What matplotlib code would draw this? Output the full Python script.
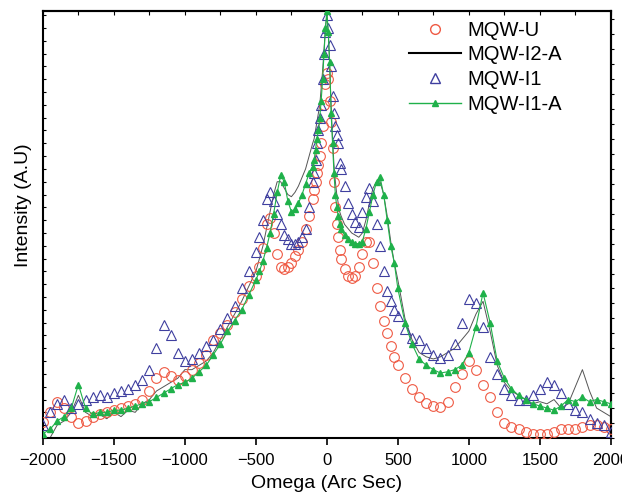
import matplotlib
matplotlib.use("Agg")
import matplotlib.pyplot as plt
from matplotlib.ticker import MultipleLocator, NullFormatter
from matplotlib.lines import Line2D

plt.rcParams['font.family'] = ['Liberation Sans', 'DejaVu Sans']

# Omega sampling (arc sec)
omega = [-2000, -1950, -1900, -1850, -1800, -1750, -1700, -1650, -1600, -1550,
         -1500, -1450, -1400, -1350, -1300, -1250, -1200, -1150, -1100, -1050,
         -1000, -950, -900, -850, -800, -750, -700, -650, -600, -550,
         -500, -475, -450, -425, -400, -375, -350, -325, -300, -275,
         -250, -225, -200, -175, -150, -125,
         -100, -90, -80, -70, -60, -50, -40, -30, -20, -10,
         0, 10, 20, 30, 40, 50, 60, 70, 80, 90, 100,
         125, 150, 175, 200, 225, 250, 275, 300, 325, 350,
         375, 400, 425, 450, 475, 500,
         550, 600, 650, 700, 750, 800, 850, 900, 950, 1000,
         1050, 1100, 1150, 1200, 1250, 1300, 1350, 1400, 1450, 1500,
         1550, 1600, 1650, 1700, 1750, 1800, 1850, 1900, 1950, 2000]

# MQW-U (red circles)
mqw_u = [0.037, 0.06, 0.085, 0.07, 0.05, 0.035, 0.04, 0.05, 0.055, 0.06,
         0.065, 0.07, 0.075, 0.08, 0.09, 0.11, 0.14, 0.155, 0.145, 0.135,
         0.145, 0.16, 0.175, 0.195, 0.23, 0.245, 0.265, 0.295, 0.325, 0.355,
         0.38, 0.40, 0.445, 0.50, 0.515, 0.48, 0.43, 0.40, 0.395, 0.40,
         0.41, 0.425, 0.44, 0.46, 0.49, 0.52,
         0.56, 0.58, 0.60, 0.62, 0.64, 0.66, 0.69, 0.73, 0.78, 0.83,
         0.855, 0.84, 0.79, 0.74, 0.68, 0.60, 0.54, 0.50, 0.47, 0.44, 0.42,
         0.395, 0.38, 0.375, 0.38, 0.40, 0.43, 0.46, 0.46, 0.41, 0.35,
         0.31, 0.275, 0.245, 0.215, 0.19, 0.17,
         0.14, 0.115, 0.095, 0.082, 0.075, 0.073, 0.085, 0.12, 0.15, 0.18,
         0.16, 0.125, 0.095, 0.06, 0.035, 0.025, 0.02, 0.015, 0.01, 0.01,
         0.01, 0.015, 0.02, 0.02, 0.02, 0.025, 0.03, 0.03, 0.025, 0.02]

# MQW-I2-A (thin dark line)
mqw_i2a = [-0.03, 0.0, 0.03, 0.04, 0.06, 0.10, 0.06, 0.05, 0.055, 0.045,
           0.06, 0.05, 0.065, 0.06, 0.08, 0.09, 0.11, 0.12, 0.13, 0.14,
           0.16, 0.16, 0.17, 0.18, 0.20, 0.23, 0.26, 0.29, 0.32, 0.355,
           0.39, 0.42, 0.45, 0.49, 0.53, 0.57, 0.60, 0.60, 0.585, 0.57,
           0.565, 0.575, 0.59, 0.61, 0.63, 0.66,
           0.69, 0.70, 0.72, 0.74, 0.76, 0.78, 0.82, 0.86, 0.91, 0.96,
           0.99, 0.95, 0.87, 0.78, 0.70, 0.64, 0.60, 0.57, 0.55, 0.53, 0.52,
           0.50, 0.49, 0.48, 0.475, 0.47, 0.48, 0.51, 0.55, 0.585, 0.60,
           0.60, 0.57, 0.52, 0.46, 0.41, 0.37,
           0.28, 0.23, 0.20, 0.19, 0.185, 0.19, 0.20, 0.21, 0.23, 0.25,
           0.29, 0.32, 0.25, 0.17, 0.13, 0.11, 0.10, 0.09, 0.08, 0.085,
           0.08, 0.09, 0.07, 0.08, 0.12, 0.16, 0.11, 0.07, 0.06, 0.05]

# MQW-I1 (blue open triangles)
mqw_i1 = [0.03, 0.06, 0.08, 0.09, 0.07, 0.08, 0.09, 0.095, 0.10, 0.095,
          0.105, 0.11, 0.115, 0.125, 0.135, 0.16, 0.21, 0.265, 0.24, 0.20,
          0.18, 0.185, 0.20, 0.215, 0.23, 0.255, 0.28, 0.31, 0.35, 0.39,
          0.435, 0.47, 0.51, 0.56, 0.575, 0.555, 0.525, 0.50, 0.475, 0.465,
          0.455, 0.455, 0.46, 0.47, 0.49, 0.54,
          0.60, 0.62, 0.65, 0.69, 0.72, 0.75, 0.78, 0.84, 0.90, 0.95,
          0.99, 0.96, 0.92, 0.87, 0.80, 0.76, 0.73, 0.71, 0.69, 0.645, 0.63,
          0.59, 0.55, 0.525, 0.505, 0.495, 0.53, 0.565, 0.585, 0.555, 0.50,
          0.45, 0.39, 0.345, 0.32, 0.30, 0.285,
          0.255, 0.235, 0.23, 0.21, 0.195, 0.187, 0.195, 0.22, 0.27, 0.325,
          0.315, 0.26, 0.19, 0.15, 0.115, 0.10, 0.09, 0.09, 0.10, 0.115,
          0.13, 0.125, 0.105, 0.08, 0.065, 0.06, 0.045, 0.035, 0.03, 0.015]

# MQW-I1-A (green line + filled triangles)
mqw_i1a = [0.01, 0.02, 0.04, 0.05, 0.07, 0.125, 0.07, 0.055, 0.06, 0.06,
           0.065, 0.065, 0.07, 0.075, 0.08, 0.085, 0.095, 0.105, 0.115, 0.125,
           0.13, 0.14, 0.155, 0.17, 0.195, 0.22, 0.25, 0.275, 0.30, 0.335,
           0.37, 0.39, 0.415, 0.445, 0.48, 0.525, 0.575, 0.615, 0.60, 0.555,
           0.53, 0.535, 0.55, 0.57, 0.595, 0.62,
           0.635, 0.65, 0.675, 0.70, 0.72, 0.75, 0.79, 0.84, 0.90, 0.96,
           1.0, 0.95, 0.88, 0.76, 0.69, 0.62, 0.57, 0.54, 0.52, 0.50, 0.49,
           0.475, 0.465, 0.46, 0.455, 0.455, 0.46, 0.49, 0.53, 0.57, 0.60,
           0.61, 0.57, 0.51, 0.45, 0.41, 0.35,
           0.27, 0.22, 0.185, 0.17, 0.16, 0.152, 0.155, 0.16, 0.17, 0.20,
           0.26, 0.34, 0.27, 0.18, 0.14, 0.115, 0.10, 0.09, 0.08, 0.075,
           0.07, 0.065, 0.075, 0.09, 0.085, 0.095, 0.085, 0.09, 0.085, 0.08]

red = '#ef5a44'
blue = '#3f3f9f'
green = '#1fb14a'

fig = plt.figure(figsize=(6.22, 4.96), dpi=100)
ax = fig.add_axes([0.069, 0.117, 0.913, 0.861])

ax.plot(omega, mqw_i2a, color='#555555', linewidth=0.7, zorder=2)
ax.plot(omega, mqw_u, linestyle='none', marker='o', markersize=7,
        markerfacecolor='none', markeredgecolor=red, markeredgewidth=0.8, zorder=3)
ax.plot(omega, mqw_i1, linestyle='none', marker='^', markersize=7,
        markerfacecolor='none', markeredgecolor=blue, markeredgewidth=0.8, zorder=4)
ax.plot(omega, mqw_i1a, color=green, linewidth=0.8, marker='^', markersize=3.8,
        markerfacecolor=green, markeredgecolor=green, zorder=5)

ax.set_xlim(-2000, 2000)
ax.set_ylim(0, 1.0)

ax.xaxis.set_major_locator(MultipleLocator(500))
ax.tick_params(axis='x', which='major', direction='out', length=5, width=1.2,
               labelsize=12, pad=6, top=False)
ax.yaxis.set_major_locator(MultipleLocator(0.03))
ax.yaxis.set_major_formatter(NullFormatter())
ax.tick_params(axis='y', which='major', direction='in', length=2.5, width=0.8)

top = ax.secondary_xaxis('top')
top.xaxis.set_major_locator(MultipleLocator(250))
top.xaxis.set_major_formatter(NullFormatter())
top.tick_params(direction='in', length=3, width=0.8)
right = ax.secondary_yaxis('right')
right.yaxis.set_major_locator(MultipleLocator(0.035))
right.yaxis.set_major_formatter(NullFormatter())
right.tick_params(direction='out', length=2.5, width=0.8)

for s in ax.spines.values():
    s.set_linewidth(1.5)
top.spines['top'].set_linewidth(1.5)
right.spines['right'].set_linewidth(1.5)

ax.set_xlabel("Omega (Arc Sec)", fontsize=14, labelpad=5)
ax.set_ylabel("Intensity (A.U)", fontsize=14)
ax.yaxis.set_label_coords(-0.02, 0.545)

handles = [
    Line2D([], [], linestyle='none', marker='o', markersize=7,
           markerfacecolor='none', markeredgecolor=red),
    Line2D([], [], color='black', linewidth=1.5),
    Line2D([], [], linestyle='none', marker='^', markersize=7,
           markerfacecolor='none', markeredgecolor=blue),
    Line2D([], [], color=green, linewidth=1.0, marker='^', markersize=4,
           markerfacecolor=green, markeredgecolor=green),
]
labels = ["MQW-U", "MQW-I2-A", "MQW-I1", "MQW-I1-A"]
ax.legend(handles, labels, loc='upper left', bbox_to_anchor=(0.62, 1.01),
          frameon=False, fontsize=14.5, handlelength=2.6, handletextpad=0.3,
          labelspacing=0.28, borderaxespad=0.3)

fig.savefig("out.png", dpi=100)
